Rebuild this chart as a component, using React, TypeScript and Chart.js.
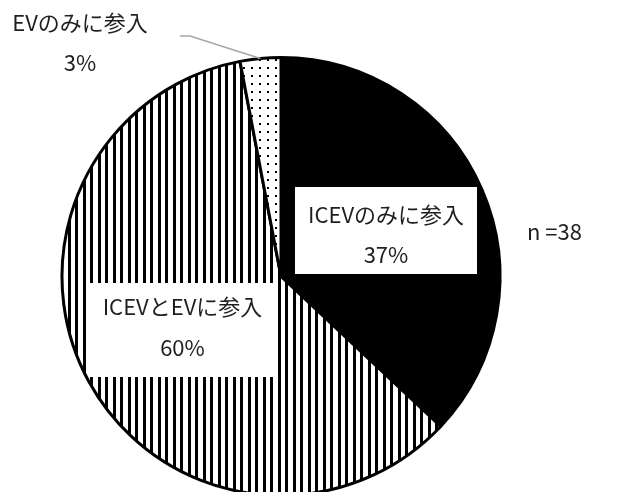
import React, { useEffect, useRef } from "react";
import { Chart, registerables } from "chart.js";

Chart.register(...registerables);

// Participation categories and their shares (%)
const categories = ["ICEVのみに参入", "ICEVとEVに参入", "EVのみに参入"];
const shares = [37, 60, 3];
const sampleNote = "n =38";

const WIDTH = 641;
const HEIGHT = 492;
const FONT = '22px "Noto Sans CJK JP", "Noto Sans", sans-serif';
const TEXT_COLOR = "#1f1f1f";

// Where each slice's label sits: optional white box and the centre of the two text lines
const labelLayout = [
  { box: { x: 295, y: 187, w: 182, h: 87 }, tx: 386, ty: 235, gap: 40 },
  { box: { x: 90, y: 283, w: 185, h: 94 }, tx: 182.5, ty: 327.5, gap: 41 },
  { box: null, tx: 80, ty: 43, gap: 40 },
];

function makeStripePattern(): CanvasPattern | string {
  const c = document.createElement("canvas");
  c.width = 15;
  c.height = 4;
  const g = c.getContext("2d");
  if (!g) return "#888";
  g.fillStyle = "#fff";
  g.fillRect(0, 0, 15, 4);
  g.fillStyle = "#000";
  g.fillRect(0, 0, 3, 4);
  g.fillRect(8, 0, 3, 4);
  return g.createPattern(c, "repeat") as CanvasPattern;
}

function makeDotPattern(): CanvasPattern | string {
  const c = document.createElement("canvas");
  c.width = 8;
  c.height = 8;
  const g = c.getContext("2d");
  if (!g) return "#eee";
  g.fillStyle = "#fff";
  g.fillRect(0, 0, 8, 8);
  g.fillStyle = "#000";
  g.fillRect(3, 3, 2, 2);
  return g.createPattern(c, "repeat") as CanvasPattern;
}

const labelPlugin = {
  id: "sliceLabels",
  afterDatasetsDraw(chart: any) {
    const ctx: CanvasRenderingContext2D = chart.ctx;
    const meta = chart.getDatasetMeta(0);
    const total = shares.reduce((a, b) => a + b, 0);
    ctx.save();
    ctx.font = FONT;
    ctx.textAlign = "center";
    ctx.textBaseline = "middle";

    // leader line from the small slice to its outside label
    const arc = meta.data[2];
    if (arc) {
      const p = arc.getProps(["x", "y", "startAngle", "endAngle", "outerRadius"], true);
      const mid = (p.startAngle + p.endAngle) / 2;
      const ex = p.x + Math.cos(mid) * p.outerRadius;
      const ey = p.y + Math.sin(mid) * p.outerRadius;
      ctx.strokeStyle = "#a6a6a6";
      ctx.lineWidth = 1.5;
      ctx.beginPath();
      ctx.moveTo(180, 36);
      ctx.lineTo(190, 36);
      ctx.lineTo(ex, ey);
      ctx.stroke();
    }

    labelLayout.forEach((l, i) => {
      if (l.box) {
        ctx.fillStyle = "#fff";
        ctx.fillRect(l.box.x, l.box.y, l.box.w, l.box.h);
      }
      const pct = Math.round((shares[i] / total) * 100) + "%";
      ctx.fillStyle = TEXT_COLOR;
      ctx.fillText(categories[i], l.tx, l.ty - l.gap / 2);
      ctx.fillText(pct, l.tx, l.ty + l.gap / 2);
    });

    ctx.textAlign = "left";
    ctx.fillText(sampleNote, 527, 232);
    ctx.restore();
  },
};

export default function App() {
  const ref = useRef<HTMLCanvasElement | null>(null);

  useEffect(() => {
    document.body.style.margin = "0";
    const canvas = ref.current;
    if (!canvas) return;
    const chart = new Chart(canvas, {
      type: "pie",
      data: {
        labels: categories,
        datasets: [
          {
            data: shares,
            backgroundColor: ["#000000", makeStripePattern(), makeDotPattern()],
            borderColor: "#000000",
            borderWidth: 3,
            radius: 219,
          } as any,
        ],
      },
      options: {
        responsive: false,
        animation: false,
        devicePixelRatio: 1,
        layout: { padding: { left: 0, right: 79, top: 61, bottom: 0 } },
        plugins: {
          legend: { display: false },
          tooltip: { enabled: false },
        },
      },
      plugins: [labelPlugin],
    });
    return () => chart.destroy();
  }, []);

  return (
    <div style={{ width: WIDTH, height: HEIGHT, background: "#fff" }}>
      <canvas ref={ref} width={WIDTH} height={HEIGHT} />
    </div>
  );
}
